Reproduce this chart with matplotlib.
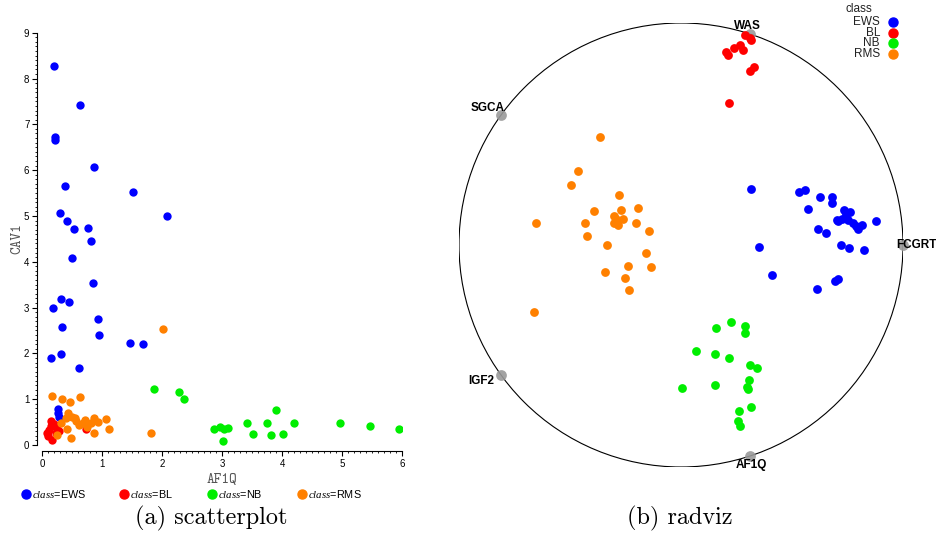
import numpy as np
import matplotlib
matplotlib.use('Agg')
import matplotlib.pyplot as plt
from matplotlib.patches import Circle
from matplotlib.lines import Line2D
from matplotlib.ticker import MultipleLocator

plt.rcParams['font.family'] = ['Liberation Sans', 'DejaVu Sans']
plt.rcParams['mathtext.fontset'] = 'custom'
plt.rcParams['mathtext.it'] = 'Liberation Serif:italic'
plt.rcParams['mathtext.rm'] = 'Liberation Sans'

classes = ['EWS', 'BL', 'NB', 'RMS']
colors = {'EWS': '#0000ff', 'BL': '#ff0000', 'NB': '#00ee00', 'RMS': '#ff8000'}

# scatterplot values: AF1Q (x) and CAV1 (y)
ews_af1q = [0.20, 0.63, 0.22, 0.22, 0.86, 0.38, 1.52, 0.29, 2.08, 0.41, 0.53, 0.76, 0.81,
            0.49, 0.85, 0.31, 0.45, 0.18, 0.93, 0.33, 0.94, 1.47, 1.68, 0.14, 0.31, 0.61,
            0.27, 0.27, 0.28]
ews_cav1 = [8.27, 7.42, 6.72, 6.66, 6.07, 5.66, 5.52, 5.07, 4.99, 4.88, 4.72, 4.74, 4.46,
            4.08, 3.54, 3.19, 3.12, 2.98, 2.74, 2.58, 2.41, 2.22, 2.20, 1.91, 1.99, 1.68,
            0.78, 0.69, 0.62]
bl_af1q = [0.14, 0.11, 0.09, 0.15, 0.16, 0.23, 0.25, 0.20, 0.28, 0.73, 0.08]
bl_cav1 = [0.52, 0.32, 0.20, 0.42, 0.12, 0.27, 0.34, 0.46, 0.30, 0.34, 0.27]
nb_af1q = [1.87, 2.28, 2.36, 2.87, 2.96, 3.03, 3.09, 3.02, 3.41, 3.51, 3.74, 3.90, 3.81,
           4.01, 4.19, 4.97, 5.46, 5.95]
nb_cav1 = [1.22, 1.16, 1.00, 0.36, 0.40, 0.35, 0.37, 0.09, 0.49, 0.25, 0.49, 0.76, 0.21,
           0.24, 0.49, 0.49, 0.41, 0.36]
rms_af1q = [0.17, 0.33, 0.63, 0.47, 0.43, 2.02, 0.49, 0.54, 0.31, 0.41, 0.25, 0.48, 0.71,
            0.68, 0.75, 0.86, 0.93, 0.87, 1.06, 1.11, 1.82, 0.56, 0.40, 0.62, 0.82]
rms_cav1 = [1.08, 1.01, 1.04, 0.94, 0.70, 2.53, 0.61, 0.58, 0.47, 0.36, 0.22, 0.15, 0.55,
            0.48, 0.40, 0.58, 0.51, 0.27, 0.56, 0.34, 0.26, 0.52, 0.60, 0.43, 0.48]

# radviz projected positions (unit circle)
anchors = ['FCGRT', 'WAS', 'SGCA', 'IGF2', 'AF1Q']
ews_rx = [0.314, 0.533, 0.560, 0.626, 0.682, 0.679, 0.573, 0.736, 0.761, 0.701, 0.727,
          0.754, 0.776, 0.814, 0.799, 0.877, 0.618, 0.652, 0.353, 0.722, 0.758, 0.824,
          0.409, 0.694, 0.706, 0.611, 0.743, 0.707, 0.788]
ews_ry = [0.254, 0.240, 0.248, 0.216, 0.218, 0.188, 0.164, 0.158, 0.149, 0.114, 0.118,
          0.113, 0.100, 0.090, 0.071, 0.109, 0.073, 0.054, -0.008, -0.001, -0.012, -0.023,
          -0.134, -0.162, -0.153, -0.197, 0.140, 0.108, 0.086]
bl_rx = [0.288, 0.311, 0.315, 0.266, 0.239, 0.203, 0.212, 0.279, 0.329, 0.311, 0.216]
bl_ry = [0.946, 0.932, 0.923, 0.901, 0.887, 0.869, 0.856, 0.878, 0.802, 0.784, 0.640]
nb_rx = [0.158, 0.225, 0.288, 0.290, 0.068, 0.155, 0.215, 0.311, 0.341, 0.005, 0.152,
         0.306, 0.296, 0.300, 0.261, 0.315, 0.257, 0.264]
nb_ry = [-0.375, -0.347, -0.366, -0.395, -0.479, -0.491, -0.510, -0.541, -0.553, -0.643,
         -0.632, -0.607, -0.641, -0.650, -0.746, -0.728, -0.794, -0.815]
rms_rx = [-0.365, -0.463, -0.497, -0.281, -0.393, -0.269, -0.195, -0.655, -0.431, -0.300,
          -0.261, -0.203, -0.303, -0.285, -0.145, -0.425, -0.335, -0.159, -0.240, -0.136,
          -0.344, -0.252, -0.234, -0.662, -0.293]
rms_ry = [0.485, 0.333, 0.272, 0.224, 0.153, 0.158, 0.167, 0.099, 0.099, 0.129, 0.117,
          0.099, 0.100, 0.090, 0.064, 0.042, 0.001, -0.035, -0.096, -0.100, -0.122, -0.147,
          -0.201, -0.302, 0.117]

scat = {'EWS': (ews_af1q, ews_cav1), 'BL': (bl_af1q, bl_cav1),
        'NB': (nb_af1q, nb_cav1), 'RMS': (rms_af1q, rms_cav1)}
rad = {'EWS': (ews_rx, ews_ry), 'BL': (bl_rx, bl_ry),
       'NB': (nb_rx, nb_ry), 'RMS': (rms_rx, rms_ry)}

W, H = 937, 533
fig = plt.figure(figsize=(W / 100, H / 100), dpi=100)

def fx(px):
    return px / W

def fy(py):
    return 1 - py / H

# ---- (a) scatterplot
ax = fig.add_axes([fx(42.3), fy(445), 360 / W, 412.3 / H])
for c in classes:
    xs, ys = scat[c]
    ax.scatter(xs, ys, s=36, color=colors[c], linewidths=0, zorder=3)
ax.set_xlim(0, 6)
ax.set_ylim(0, 9)
for s in ['top', 'right']:
    ax.spines[s].set_visible(False)
ax.spines['left'].set_position(('outward', 3.8))
ax.spines['bottom'].set_position(('outward', 4.3))
ax.spines['left'].set_bounds(0, 9)
ax.spines['bottom'].set_bounds(0, 6)
ax.xaxis.set_minor_locator(MultipleLocator(0.1))
ax.yaxis.set_minor_locator(MultipleLocator(0.1))
ax.tick_params(which='major', length=3.5, width=0.8, labelsize=7, pad=2)
ax.tick_params(which='minor', length=1.5, width=0.6)
ax.set_xlabel('AF1Q', fontname='cmtt10', fontsize=10.5, labelpad=3, color='#555555')
ax.set_ylabel('CAV1', fontname='cmtt10', fontsize=10.5, color='#555555')
ax.yaxis.set_label_coords(-0.05, 0.5)

leg_x = [26, 124, 212, 302]
for c, px in zip(classes, leg_x):
    fig.add_artist(Line2D([fx(px)], [fy(494)], transform=fig.transFigure, marker='o',
                          markersize=6.5, color=colors[c], linestyle='none'))
    fig.text(fx(px + 6), fy(494), r'$\mathit{class}$=' + c, fontsize=7.8,
             va='center', ha='left')

fig.text(fx(211.5), fy(518), '(a) scatterplot', fontname='cmr10', fontsize=17.5,
         ha='center', va='center')

# ---- (b) radviz
cx, cy, r = 681, 245, 222
ax2 = fig.add_axes([fx(cx - r), fy(cy + r), 2 * r / W, 2 * r / H])
ax2.set_xlim(-1, 1)
ax2.set_ylim(-1, 1)
ax2.axis('off')
ax2.add_patch(Circle((0, 0), 1, fill=False, edgecolor='black', linewidth=0.8))
n = len(anchors)
ang = 2 * np.pi * np.arange(n) / n
ax2.scatter(np.cos(ang), np.sin(ang), s=60, color='#999999', alpha=0.9, linewidths=0,
            zorder=2, clip_on=False)
label_style = {
    'FCGRT': (-0.03, 0.0, 'left', 'center'),
    'WAS': (-0.01, 0.036, 'center', 'center'),
    'SGCA': (0.016, 0.028, 'right', 'center'),
    'IGF2': (-0.03, -0.025, 'right', 'center'),
    'AF1Q': (0.006, -0.042, 'center', 'center'),
}
for name, a in zip(anchors, ang):
    dx, dy, ha, va = label_style[name]
    ax2.text(np.cos(a) + dx, np.sin(a) + dy, name, fontsize=8.5, fontweight='bold',
             ha=ha, va=va, clip_on=False, zorder=5)
for c in classes:
    xs, ys = rad[c]
    ax2.scatter(xs, ys, s=40, color=colors[c], linewidths=0, zorder=3)

fig.text(fx(859), fy(9), 'class', fontsize=8.5, ha='center', va='center', color='#222222')
for i, c in enumerate(classes):
    y = 22 + i * 10.7
    fig.text(fx(880), fy(y), c, fontsize=8.5, ha='right', va='center', color='#222222')
    fig.add_artist(Line2D([fx(893)], [fy(y)], transform=fig.transFigure, marker='o',
                          markersize=6.5, color=colors[c], linestyle='none'))

fig.text(fx(680), fy(518), '(b) radviz', fontname='cmr10', fontsize=17.5,
         ha='center', va='center')

fig.savefig('out.png', dpi=100)
